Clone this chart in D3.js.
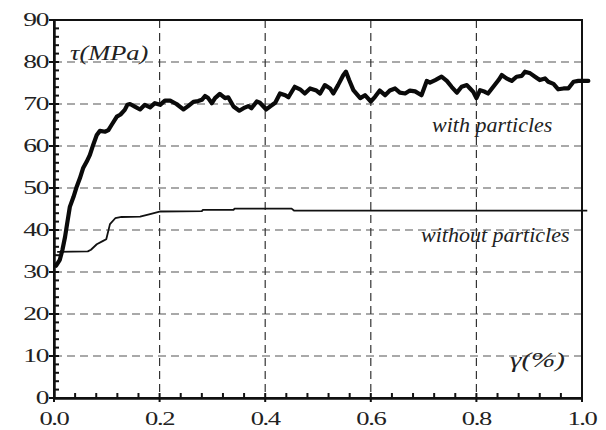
<!DOCTYPE html>
<html>
<head>
<meta charset="utf-8">
<script src="https://cdn.jsdelivr.net/npm/d3@7"></script>
<style>
  html, body { margin: 0; padding: 0; background: #fff; }
  svg { display: block; }
</style>
</head>
<body>
<svg id="chart" width="606" height="430"></svg>
<script>
// Shear stress vs. shear strain, with and without particles
const xTicks = [0.0, 0.2, 0.4, 0.6, 0.8, 1.0];
const yTicks = [0, 10, 20, 30, 40, 50, 60, 70, 80, 90];

const withStrain = [0.004,0.011,0.016,0.021,0.025,0.030,0.037,0.043,0.049,0.055,0.062,0.068,0.074,0.081,0.087,0.097,0.103,0.109,0.119,0.126,0.134,0.139,0.144,0.153,0.163,0.172,0.182,0.191,0.201,0.210,0.220,0.232,0.245,0.254,0.264,0.273,0.280,0.286,0.292,0.299,0.305,0.314,0.324,0.330,0.340,0.351,0.359,0.368,0.374,0.384,0.390,0.402,0.409,0.419,0.428,0.438,0.444,0.456,0.466,0.475,0.485,0.497,0.504,0.513,0.523,0.529,0.538,0.548,0.553,0.559,0.567,0.580,0.589,0.600,0.608,0.617,0.627,0.636,0.646,0.655,0.665,0.674,0.684,0.696,0.706,0.712,0.722,0.734,0.744,0.753,0.763,0.772,0.782,0.788,0.794,0.800,0.807,0.816,0.822,0.832,0.842,0.848,0.857,0.867,0.876,0.886,0.892,0.902,0.911,0.920,0.930,0.936,0.946,0.955,0.965,0.974,0.984,0.993,1.003,1.012];
const withStress = [31.5,32.9,35.3,38.4,41.6,45.5,47.9,50.3,52.3,54.7,56.3,57.9,60.2,62.6,63.6,63.4,63.8,65.0,67.0,67.5,68.6,69.8,70.0,69.4,68.7,69.8,69.2,70.2,69.8,70.8,70.8,70.0,68.7,69.5,70.5,70.7,71.0,71.9,71.4,70.2,71.4,72.4,71.4,71.6,69.4,68.4,69.0,69.5,69.0,70.6,70.3,68.7,69.4,70.3,72.5,72.1,71.6,74.1,73.5,72.5,73.7,73.2,72.5,74.5,73.7,72.5,74.5,76.9,77.7,75.7,73.3,71.4,72.1,70.6,71.7,73.2,72.1,73.2,73.7,72.7,72.5,73.2,73.0,72.1,75.5,75.1,75.7,76.5,75.5,74.1,72.7,74.1,74.5,73.7,72.9,71.4,73.3,72.9,72.5,74.1,75.7,76.9,76.1,75.5,76.5,76.7,77.7,77.3,76.5,75.7,76.1,75.3,74.8,73.5,73.7,73.7,75.3,75.5,75.5,75.5];

const withoutStrain = [0.006,0.064,0.070,0.081,0.093,0.099,0.106,0.116,0.128,0.163,0.182,0.200,0.280,0.282,0.340,0.342,0.450,0.455,1.010];
const withoutStress = [34.8,34.9,35.3,36.6,37.4,37.8,41.4,42.8,43.1,43.2,43.8,44.4,44.5,44.8,44.8,45.1,45.1,44.6,44.6];

const svg = d3.select("#chart");
const plotLeft = 54, plotRight = 582, plotTop = 20, plotBottom = 398;

const x = d3.scaleLinear().domain([0, 1]).range([plotLeft, plotRight]);
const y = d3.scaleLinear().domain([0, 90]).range([plotBottom, plotTop]);

const serif = "'Liberation Serif', 'Times New Roman', serif";

// dashed grid
svg.append("g").selectAll("line")
  .data(yTicks.filter(d => d > 0 && d < 90))
  .join("line")
  .attr("x1", plotLeft).attr("x2", plotRight)
  .attr("y1", d => y(d)).attr("y2", d => y(d))
  .attr("stroke", "#555").attr("stroke-width", 1.2)
  .attr("stroke-dasharray", "8,5");

svg.append("g").selectAll("line")
  .data(xTicks.filter(d => d > 0 && d < 1))
  .join("line")
  .attr("x1", d => x(d)).attr("x2", d => x(d))
  .attr("y1", plotTop).attr("y2", plotBottom)
  .attr("stroke", "#333").attr("stroke-width", 1.2)
  .attr("stroke-dasharray", "8,5");

// frame
svg.append("rect")
  .attr("x", plotLeft).attr("y", plotTop)
  .attr("width", plotRight - plotLeft).attr("height", plotBottom - plotTop)
  .attr("fill", "none").attr("stroke", "#111").attr("stroke-width", 2);

// axes with inward minor ticks
const xAxis = d3.axisBottom(x).tickValues(xTicks).tickSize(0).tickFormat(d3.format(".1f"));
const gx = svg.append("g").attr("transform", `translate(0,${plotBottom})`).call(xAxis);
gx.select(".domain").attr("stroke", "#111").attr("stroke-width", 2.5);
gx.selectAll(".tick").attr("transform", null);
gx.selectAll("text")
  .attr("font-family", serif).attr("font-size", 19).attr("fill", "#222")
  .attr("dy", null).attr("y", 0).attr("x", 0)
  .attr("letter-spacing", -1)
  .attr("transform", d => `translate(${x(d)},27) scale(1.4,1)`);

const xMinor = d3.range(0, 1.0001, 0.04);
svg.append("g").selectAll("line").data(xMinor).join("line")
  .attr("x1", d => x(d)).attr("x2", d => x(d))
  .attr("y1", plotBottom - 5)
  .attr("y2", d => (Math.abs(Math.round(d * 5) - d * 5) < 1e-6 ? plotBottom + 4 : plotBottom))
  .attr("stroke", "#111").attr("stroke-width", 2);

const yAxis = d3.axisLeft(y).tickValues(yTicks).tickSize(0);
const gy = svg.append("g").attr("transform", `translate(${plotLeft},0)`).call(yAxis);
gy.select(".domain").attr("stroke", "#111").attr("stroke-width", 2.5);
gy.selectAll(".tick").attr("transform", null);
gy.selectAll("text")
  .attr("font-family", serif).attr("font-size", 19).attr("fill", "#222")
  .attr("dy", "0.34em").attr("x", 0).attr("y", 0)
  .attr("letter-spacing", -1)
  .attr("transform", d => `translate(-6,${y(d)}) scale(1.45,1)`);

const yMinor = d3.range(0, 90.0001, 2);
svg.append("g").selectAll("line").data(yMinor).join("line")
  .attr("y1", d => y(d)).attr("y2", d => y(d))
  .attr("x1", d => (d % 10 === 0 ? plotLeft - 5 : plotLeft))
  .attr("x2", plotLeft + 5)
  .attr("stroke", "#111").attr("stroke-width", 2);

// curves
const line = d3.line().x(d => x(d[0])).y(d => y(d[1]));

svg.append("path")
  .datum(d3.zip(withoutStrain, withoutStress))
  .attr("d", line)
  .attr("fill", "none").attr("stroke", "#111").attr("stroke-width", 1.8)
  .attr("stroke-linejoin", "round");

svg.append("path")
  .datum(d3.zip(withStrain, withStress))
  .attr("d", line)
  .attr("fill", "none").attr("stroke", "#0a0a0a").attr("stroke-width", 4.2)
  .attr("stroke-linejoin", "round").attr("stroke-linecap", "round");

// labels
function label(px, py, txt, sx) {
  svg.append("text")
    .attr("x", 0).attr("y", 0)
    .attr("transform", `translate(${px},${py}) scale(${sx},1)`)
    .attr("font-family", serif).attr("font-style", "italic")
    .attr("font-size", 22).attr("fill", "#222")
    .text(txt);
}
label(70, 60, "τ(MPa)", 1.2);
label(510, 367, "γ(%)", 1.32);
label(432, 132, "with particles", 1);
label(421, 242, "without particles", 1);
</script>
</body>
</html>
